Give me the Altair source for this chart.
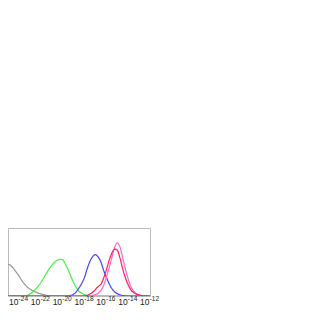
import altair as alt
import pandas as pd

# x positions are log10 exponents of the x value
gray_x = [-25.5, -25.25, -25.0, -24.75, -24.5, -24.25, -24.0, -23.75, -23.5, -23.25, -23.0,
          -22.75, -22.5, -22.25, -22.0, -21.75, -21.5, -21.25, -21.0, -20.75, -12.0]
gray_y = [0.48, 0.475, 0.467, 0.45, 0.407, 0.352, 0.295, 0.231, 0.178, 0.132, 0.103,
          0.079, 0.060, 0.043, 0.031, 0.020, 0.011, 0.005, 0.002, 0.0, 0.0]

green_x = [-25.5, -23.75, -23.5, -23.25, -23.0, -22.75, -22.5, -22.25, -22.0, -21.75, -21.5,
           -21.25, -21.0, -20.75, -20.5, -20.25, -20.0, -19.75, -19.5, -19.25, -19.0,
           -18.75, -18.5, -18.25, -18.0, -17.75, -17.5, -17.25, -12.0]
green_y = [0.0, 0.0, 0.003, 0.01, 0.03, 0.054, 0.095, 0.14, 0.195, 0.258, 0.327,
           0.395, 0.45, 0.497, 0.525, 0.54, 0.535, 0.47, 0.39, 0.29, 0.2,
           0.125, 0.07, 0.04, 0.02, 0.008, 0.002, 0.0, 0.0]

blue_x = [-25.5, -19.75, -19.5, -19.25, -19.0, -18.75, -18.5, -18.25, -18.0, -17.75, -17.5,
          -17.25, -17.0, -16.75, -16.5, -16.25, -16.0, -15.75, -15.5, -15.25, -15.0,
          -14.75, -14.5, -14.25, -14.0, -12.0]
blue_y = [0.0, 0.0, 0.003, 0.01, 0.025, 0.062, 0.118, 0.185, 0.27, 0.40, 0.51,
          0.58, 0.607, 0.575, 0.505, 0.38, 0.275, 0.185, 0.11, 0.063, 0.035,
          0.018, 0.006, 0.001, 0.0, 0.0]

pink_x = [-25.5, -17.75, -17.5, -17.25, -17.0, -16.75, -16.5, -16.25, -16.0, -15.75, -15.5,
          -15.25, -15.0, -14.75, -14.5, -14.25, -14.0, -13.75, -13.5, -13.25, -13.0,
          -12.75, -12.5, -12.0]
pink_y = [0.0, 0.0, 0.002, 0.008, 0.02, 0.04, 0.08, 0.15, 0.27, 0.41, 0.56,
          0.71, 0.78, 0.72, 0.56, 0.396, 0.25, 0.135, 0.07, 0.032, 0.013,
          0.004, 0.001, 0.0]

red_x = [-25.5, -18.25, -18.0, -17.75, -17.5, -17.25, -17.0, -16.75, -16.5, -16.25, -16.0,
         -15.75, -15.5, -15.25, -15.0, -14.75, -14.5, -14.25, -14.0, -13.75, -13.5,
         -13.25, -13.0, -12.75, -12.5, -12.0]
red_y = [0.0, 0.0, 0.003, 0.01, 0.03, 0.055, 0.095, 0.14, 0.17, 0.26, 0.38,
         0.52, 0.63, 0.69, 0.675, 0.56, 0.40, 0.265, 0.165, 0.09, 0.05,
         0.027, 0.013, 0.005, 0.001, 0.0]

series_names = ["gray", "green", "blue", "pink", "red"]
series_colors = ["#999999", "#44ee44", "#4444ff", "#ff66cc", "#ff1f4f"]

tick_values = [-24, -22, -20, -18, -16, -14, -12]
tick_bases = ["10"] * 7
tick_exponents = ["-24", "-22", "-20", "-18", "-16", "-14", "-12"]

rows = []
for order, (name, xs, ys) in enumerate([
    ("gray", gray_x, gray_y), ("green", green_x, green_y), ("blue", blue_x, blue_y),
    ("pink", pink_x, pink_y), ("red", red_x, red_y)]):
    for i, (x, y) in enumerate(zip(xs, ys)):
        rows.append({"series": name, "ord": order, "i": i, "logx": x, "y": y})
df = pd.DataFrame(rows)

ticks_df = pd.DataFrame({"logx": tick_values, "base": tick_bases, "exp": tick_exponents})

W, H = 142, 68
xscale = alt.Scale(domain=[-25, -12], nice=False, zero=False)

lines = alt.Chart(df).mark_line(strokeWidth=1.2, clip=True, interpolate="monotone").encode(
    x=alt.X("logx:Q", scale=xscale, axis=None),
    y=alt.Y("y:Q", scale=alt.Scale(domain=[0, 1], nice=False), axis=None),
    color=alt.Color("series:N", scale=alt.Scale(domain=series_names, range=series_colors),
                    legend=None),
    detail="series:N",
    order="i:Q",
)

base_txt = alt.Chart(ticks_df).mark_text(
    align="right", baseline="alphabetic", dx=-0.5, fontSize=8.5, font="Liberation Sans",
    color="#222222").encode(
    x=alt.X("logx:Q", scale=xscale, axis=None),
    y=alt.value(H + 8.5),
    text="base:N",
)
exp_txt = alt.Chart(ticks_df).mark_text(
    align="left", baseline="alphabetic", dx=-0.3, fontSize=6.5, font="Liberation Sans",
    color="#222222").encode(
    x=alt.X("logx:Q", scale=xscale, axis=None),
    y=alt.value(H + 5),
    text="exp:N",
)

chart = alt.layer(lines, base_txt, exp_txt).properties(
    width=W, height=H,
    padding={"top": 220, "left": 0, "right": 5, "bottom": 5},
).configure_view(stroke="#bbbbbb", strokeWidth=1)

chart.save("out.html", embed_options={"renderer": "svg", "actions": False})
